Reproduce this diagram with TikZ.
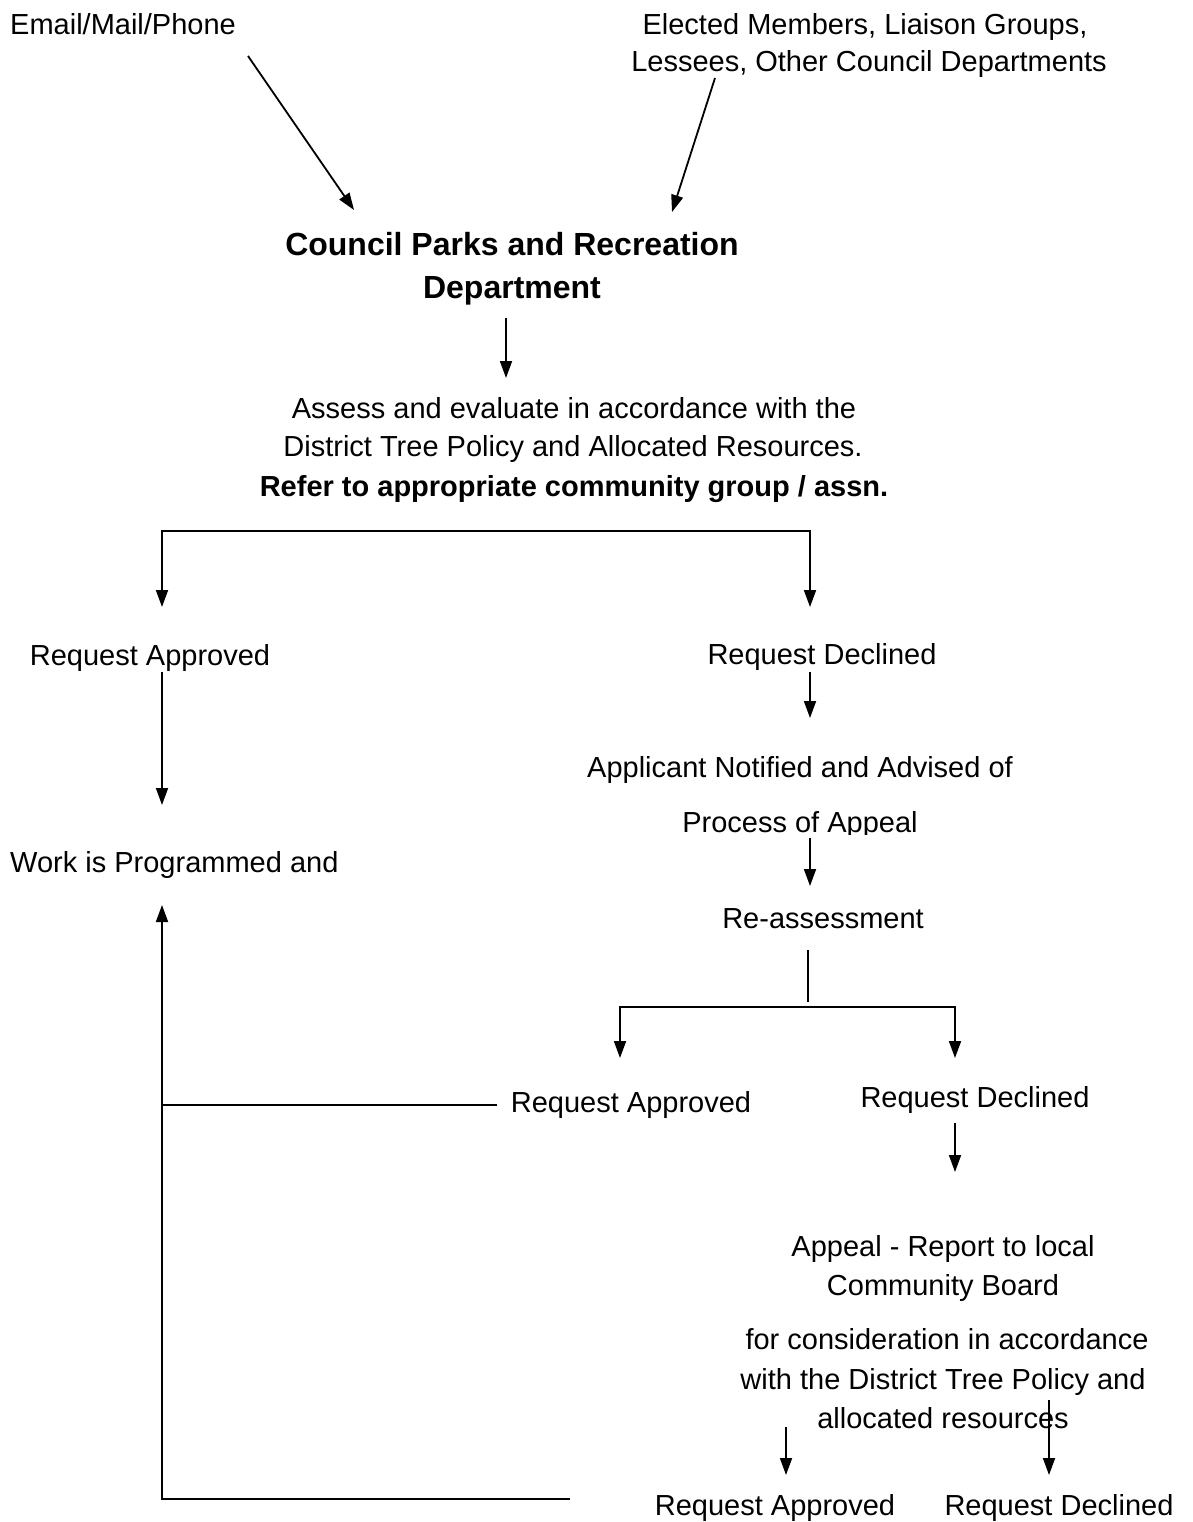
\documentclass[tikz,border=0pt]{standalone}
\usepackage{fontspec}
\setmainfont{Liberation Sans}
\usetikzlibrary{arrows.meta}
\begin{document}
\begin{tikzpicture}[x=1pt,y=-1pt,
  txt/.style={inner sep=0pt, anchor=base, font=\fontsize{29}{35}\selectfont},
  btxt/.style={inner sep=0pt, anchor=base, font=\fontsize{29}{35}\selectfont\bfseries},
  ttl/.style={inner sep=0pt, anchor=base, font=\fontsize{32}{38}\selectfont\bfseries},
  conn/.style={line width=1.8pt, line join=miter},
  arr/.style={conn, -{Triangle[width=12pt,length=17pt]}},
  darr/.style={conn, {Triangle[width=12pt,length=17pt]}-{Triangle[width=12pt,length=17pt]}}]
\useasboundingbox (0,0) rectangle (1192,1522);
\fill[white] (0,0) rectangle (1192,1522);
% texts
\node[txt, anchor=base west] (email) at (10,35) {Email/Mail/Phone};
\node[txt] (elec1) at (865,35) {Elected Members, Liaison Groups,};
\node[txt] (elec2) at (869,72) {Lessees, Other Council Departments};
\node[ttl] (cp1) at (512,255) {Council Parks and Recreation};
\node[ttl] (cp2) at (512,298) {Department};
\node[txt] (as1) at (574,418) {Assess and evaluate in accordance with the};
\node[txt] (as2) at (573,456) {District Tree Policy and Allocated Resources.};
\node[btxt] (as3) at (574,496) {Refer to appropriate community group / assn.};
\node[txt] (ra1) at (150,665) {Request Approved};
\node[txt] (rd1) at (822,664) {Request Declined};
\node[txt] (ap1) at (800,777) {Applicant Notified and Advised of};
\begin{scope}
  \clip (600,790) rectangle (1000,834);
  \node[txt] (ap2) at (800,832) {Process of Appeal};
\end{scope}
\node[txt, anchor=base west] (work) at (10,872) {Work is Programmed and};
\node[txt] (reas) at (823,928) {Re-assessment};
\node[txt] (ra2) at (631,1112) {Request Approved};
\node[txt] (rd2) at (975,1107) {Request Declined};
\node[txt] (apl1) at (943,1256) {Appeal - Report to local};
\node[txt] (apl2) at (943,1295) {Community Board};
\node[txt] (fc1) at (947,1349) {for consideration in accordance};
\node[txt] (fc2) at (943,1389) {with the District Tree Policy and};
\node[txt] (fc3) at (943,1428) {allocated resources};
\node[txt] (ra3) at (775,1515) {Request Approved};
\node[txt] (rd3) at (1059,1515) {Request Declined};
% connector end points
\coordinate (emS) at (248,56);   \coordinate (emE) at (354,210);
\coordinate (elS) at (715,78);   \coordinate (elE) at (672,212);
\coordinate (cpS) at (506,318);  \coordinate (cpE) at (506,378);
\coordinate (brL) at (162,607);  \coordinate (brLt) at (162,531);
\coordinate (brRt) at (810,531); \coordinate (brR) at (810,607);
\coordinate (rdS) at (810,672);  \coordinate (rdE) at (810,718);
\coordinate (paS) at (810,838);  \coordinate (paE) at (810,886);
\coordinate (reS) at (808,950);  \coordinate (reE) at (808,1002);
\coordinate (b2L) at (620,1058); \coordinate (b2Lt) at (620,1007);
\coordinate (b2Rt) at (955,1007);\coordinate (b2R) at (955,1058);
\coordinate (d2S) at (955,1123); \coordinate (d2E) at (955,1172);
\coordinate (faS) at (786,1427); \coordinate (faE) at (786,1475);
\coordinate (fdS) at (1049,1400);\coordinate (fdE) at (1049,1475);
\coordinate (raS) at (162,672);  \coordinate (raE) at (162,805);
\coordinate (btR) at (570,1499); \coordinate (btL) at (162,1499);
\coordinate (wkE) at (162,905);
\coordinate (mdR) at (497,1105); \coordinate (mdL) at (162,1105);
% connectors
\draw[arr] (emS) -- (emE);
\draw[arr] (elS) -- (elE);
\draw[arr] (cpS) -- (cpE);
\draw[darr] (brL) -- (brLt) -- (brRt) -- (brR);
\draw[arr] (rdS) -- (rdE);
\draw[arr] (paS) -- (paE);
\draw[conn] (reS) -- (reE);
\draw[darr] (b2L) -- (b2Lt) -- (b2Rt) -- (b2R);
\draw[arr] (d2S) -- (d2E);
\draw[arr] (faS) -- (faE);
\draw[arr] (fdS) -- (fdE);
\draw[arr] (raS) -- (raE);
\draw[arr] (btR) -- (btL) -- (wkE);
\draw[conn] (mdR) -- (mdL);
\end{tikzpicture}
\end{document}
